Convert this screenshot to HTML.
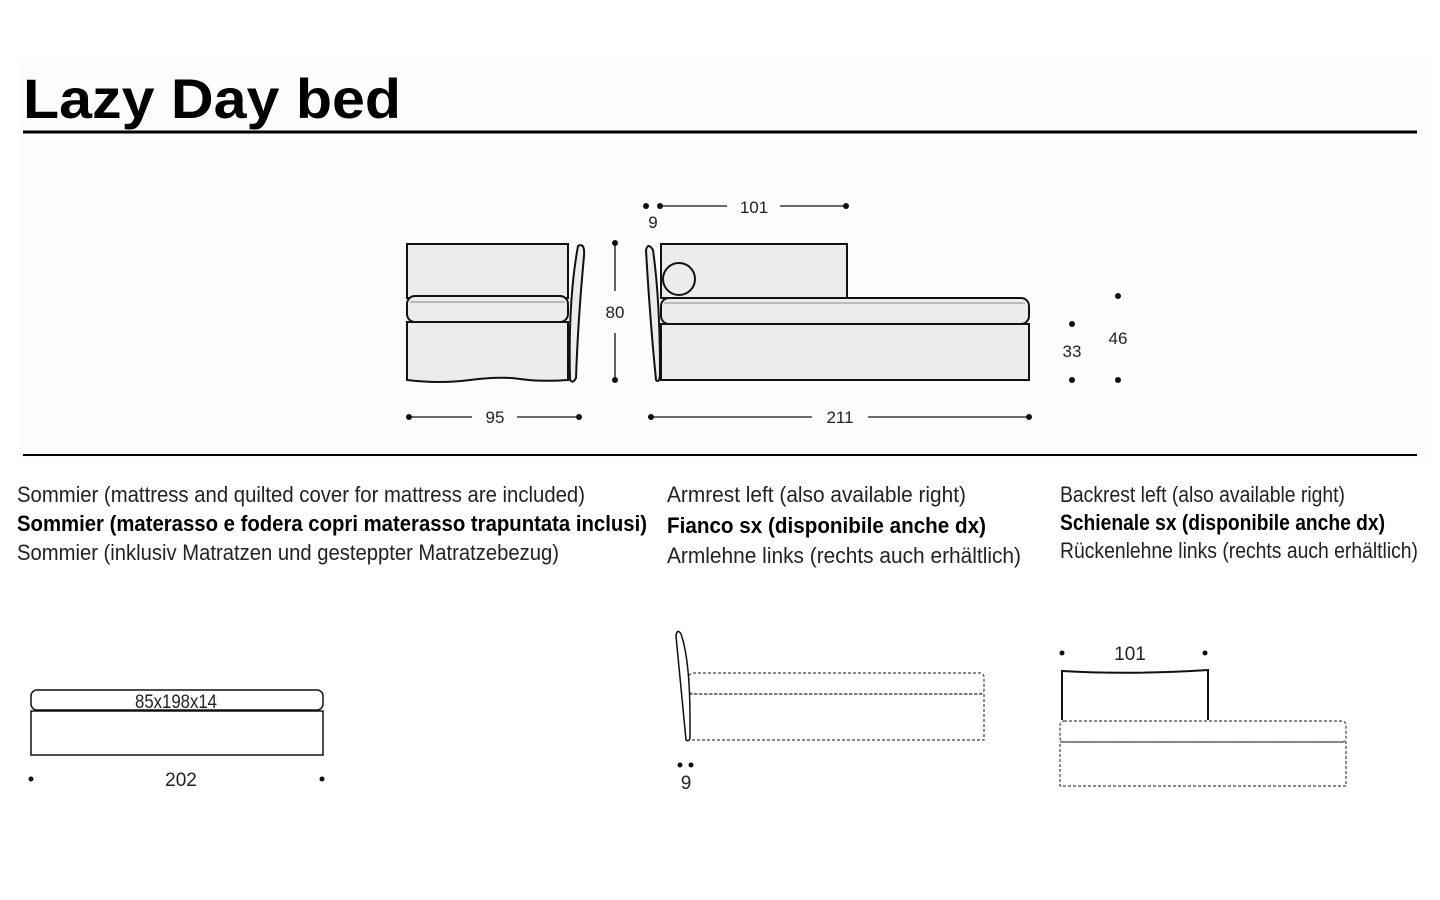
<!DOCTYPE html>
<html><head><meta charset="utf-8"><style>
html,body{margin:0;padding:0;background:#fff;width:1440px;height:900px;overflow:hidden}
svg{display:block}
</style></head><body>
<svg width="1440" height="900" viewBox="0 0 1440 900" xmlns="http://www.w3.org/2000/svg" font-family="Liberation Sans, sans-serif">
<rect x="20" y="58" width="1412" height="404" fill="#fcfcfc"/>
<text x="23" y="118" font-size="56" font-weight="bold" textLength="378" lengthAdjust="spacingAndGlyphs">Lazy Day bed</text>
<line x1="23" y1="132" x2="1417" y2="132" stroke="#000" stroke-width="3"/>
<line x1="23" y1="455" x2="1417" y2="455" stroke="#000" stroke-width="2"/>

<g stroke="#111" stroke-width="2" fill="#ececec">
<!-- left view -->
<rect x="407" y="244" width="161" height="54"/>
<rect x="407" y="296" width="161" height="26" rx="8"/>
<path d="M407 322 H568 V380 Q540 382 520 379 T470 380 T407 380 Z"/>
<path d="M570 380 Q568 300 578 246 Q585 242 584 256 Q578 320 576 378 Q573 384 570 380Z"/>
<!-- right view -->
<rect x="661" y="244" width="186" height="54"/>
<circle cx="679" cy="279" r="16" fill="#ececec"/>
<rect x="661" y="298" width="368" height="26" rx="8"/>
<path d="M661 324 H1029 V380 H661 Z"/>
<path d="M656 380 Q650 320 646 250 Q648 242 653 250 Q660 300 660 372 Q660 384 656 380Z"/>
</g>
<g stroke="#888" stroke-width="1"><line x1="410" y1="302" x2="565" y2="302"/><line x1="664" y1="303" x2="1025" y2="303"/></g>
<g stroke="#111" stroke-width="1.3">
<line x1="409" y1="417" x2="472" y2="417"/><line x1="517" y1="417" x2="579" y2="417"/>
<line x1="651" y1="417" x2="812" y2="417"/><line x1="868" y1="417" x2="1029" y2="417"/>
<line x1="660" y1="206" x2="727" y2="206"/><line x1="780" y1="206" x2="846" y2="206"/>
<line x1="615" y1="243" x2="615" y2="291"/><line x1="615" y1="333" x2="615" y2="380"/>
</g>
<g fill="#111">
<circle cx="409" cy="417" r="3"/><circle cx="579" cy="417" r="3"/>
<circle cx="651" cy="417" r="3"/><circle cx="1029" cy="417" r="3"/>
<circle cx="646" cy="206" r="3"/><circle cx="660" cy="206" r="3"/><circle cx="846" cy="206" r="3"/>
<circle cx="615" cy="243" r="3"/><circle cx="615" cy="380" r="3"/>
<circle cx="1072" cy="324" r="3"/><circle cx="1072" cy="380" r="3"/>
<circle cx="1118" cy="296" r="3"/><circle cx="1118" cy="380" r="3"/>
</g>
<g font-size="17" fill="#222" text-anchor="middle">
<text x="495" y="423">95</text><text x="840" y="423">211</text>
<text x="754" y="213">101</text><text x="653" y="228">9</text>
<text x="615" y="318">80</text><text x="1072" y="357">33</text><text x="1118" y="344">46</text>
</g>

<g font-size="22" fill="#222">
<text x="17" y="502" textLength="568" lengthAdjust="spacingAndGlyphs">Sommier (mattress and quilted cover for mattress are included)</text>
<text x="17" y="531" font-weight="bold" fill="#000" textLength="630" lengthAdjust="spacingAndGlyphs">Sommier (materasso e fodera copri materasso trapuntata inclusi)</text>
<text x="17" y="560" textLength="542" lengthAdjust="spacingAndGlyphs">Sommier (inklusiv Matratzen und gesteppter Matratzebezug)</text>
<text x="667" y="502" textLength="299" lengthAdjust="spacingAndGlyphs">Armrest left (also available right)</text>
<text x="667" y="533" font-weight="bold" fill="#000" textLength="319" lengthAdjust="spacingAndGlyphs">Fianco sx (disponibile anche dx)</text>
<text x="667" y="563" textLength="354" lengthAdjust="spacingAndGlyphs">Armlehne links (rechts auch erhältlich)</text>
<text x="1060" y="502" textLength="285" lengthAdjust="spacingAndGlyphs">Backrest left (also available right)</text>
<text x="1060" y="530" font-weight="bold" fill="#000" textLength="325" lengthAdjust="spacingAndGlyphs">Schienale sx (disponibile anche dx)</text>
<text x="1060" y="558" textLength="358" lengthAdjust="spacingAndGlyphs">Rückenlehne links (rechts auch erhältlich)</text>
</g>

<!-- bottom left -->
<g stroke="#111" stroke-width="1.5" fill="#fff">
<rect x="31" y="690" width="292" height="20" rx="6"/>
<rect x="31" y="711" width="292" height="44"/>
</g>
<g font-size="19" fill="#222" text-anchor="middle">
<text x="176" y="708" textLength="82" lengthAdjust="spacingAndGlyphs">85x198x14</text>
<text x="181" y="786">202</text>
<text x="686" y="789">9</text>
<text x="1130" y="660">101</text>
</g>
<g fill="#111"><circle cx="31" cy="779" r="2.5"/><circle cx="322" cy="779" r="2.5"/>
<circle cx="680" cy="765" r="2.5"/><circle cx="691" cy="765" r="2.5"/>
<circle cx="1062" cy="653" r="2.5"/><circle cx="1205" cy="653" r="2.5"/></g>

<!-- bottom middle -->
<g stroke="#444" stroke-width="1.2" fill="none" stroke-dasharray="3,2">
<rect x="689" y="673" width="295" height="21" rx="4"/>
<rect x="689" y="694" width="295" height="46"/>
</g>
<path d="M686 740 Q680 680 676 636 Q677 628 681 634 Q690 660 690 720 L690 738 Q689 742 686 740Z" fill="#fff" stroke="#111" stroke-width="1.5"/>

<!-- bottom right -->
<path d="M1062 720 V671 Q1130 675 1208 670 V720" fill="#fff" stroke="#111" stroke-width="2"/>
<g stroke="#444" stroke-width="1.2" fill="none" stroke-dasharray="3,2">
<rect x="1060" y="721" width="286" height="21" rx="4"/>
<rect x="1060" y="742" width="286" height="44"/>
</g>
</svg>
</body></html>
